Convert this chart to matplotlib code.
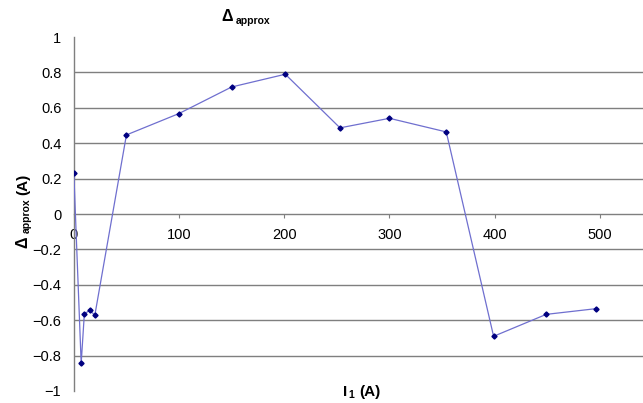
import numpy as np
import matplotlib
matplotlib.use('Agg')
import matplotlib.pyplot as plt

plt.rcParams['font.family'] = ['Liberation Sans', 'DejaVu Sans']

# wartosci
current = [0, 7, 10, 15, 20, 50, 100, 150, 201, 253, 300, 354, 399, 449, 496]
delta_approx = [0.233, -0.844, -0.565, -0.544, -0.571, 0.447, 0.568, 0.718,
                0.790, 0.487, 0.541, 0.464, -0.691, -0.567, -0.535]
x_ticks = [0, 100, 200, 300, 400, 500]
y_ticks = [-1, -0.8, -0.6, -0.4, -0.2, 0, 0.2, 0.4, 0.6, 0.8, 1]
y_labels = ['\u22121', '\u22120.8', '\u22120.6', '\u22120.4', '\u22120.2', '0',
            '0.2', '0.4', '0.6', '0.8', '1']

fig = plt.figure(figsize=(6.43, 4.03), dpi=100)
ax = fig.add_axes([0.1148, 0.0298, 0.8852, 0.8782])

# linie siatki bez skrajnych wartosci
for yv in y_ticks[1:-1]:
    if yv != 0:
        ax.axhline(yv, color='#7f7f7f', linewidth=1.0, zorder=1)

ax.plot(current, delta_approx, color='#6f6fcf', linewidth=0.9, marker='D',
        markersize=2.6, markerfacecolor='#000080', markeredgecolor='#000080',
        zorder=3)

ax.set_xlim(0, 541)
ax.set_ylim(-1, 1)
ax.set_xticks(x_ticks)
ax.set_yticks(y_ticks)
ax.set_yticklabels(y_labels)

ax.spines['top'].set_visible(False)
ax.spines['right'].set_visible(False)
ax.spines['bottom'].set_position(('data', 0))
ax.spines['bottom'].set_color('#7f7f7f')
ax.spines['left'].set_color('#7f7f7f')
ax.spines['bottom'].set_linewidth(1.0)
ax.spines['left'].set_linewidth(1.0)

ax.tick_params(axis='x', direction='out', length=3, width=0.8, color='#7f7f7f',
               labelsize=10.5, pad=7)
ax.tick_params(axis='y', length=0, labelsize=10.5, pad=9)

# tytul
fig.text(0.344, 0.958, '\u0394', fontsize=11.5, fontweight='bold', ha='left', va='center')
fig.text(0.366, 0.948, 'approx', fontsize=7.5, fontweight='bold', ha='left', va='center')

# opis osi y
fig.text(0.036, 0.385, '\u0394', fontsize=11.5, fontweight='bold', rotation=90,
         ha='center', va='bottom')
fig.text(0.041, 0.422, 'approx', fontsize=7.5, fontweight='bold', rotation=90,
         ha='center', va='bottom')
fig.text(0.036, 0.516, '(A)', fontsize=11, fontweight='bold', rotation=90,
         ha='center', va='bottom')

# opis osi x
fig.text(0.533, 0.028, 'I', fontsize=11, fontweight='bold', ha='left', va='center')
fig.text(0.542, 0.020, '1', fontsize=7.5, fontweight='bold', ha='left', va='center')
fig.text(0.559, 0.028, '(A)', fontsize=11, fontweight='bold', ha='left', va='center')

fig.savefig('out.png', dpi=100)
